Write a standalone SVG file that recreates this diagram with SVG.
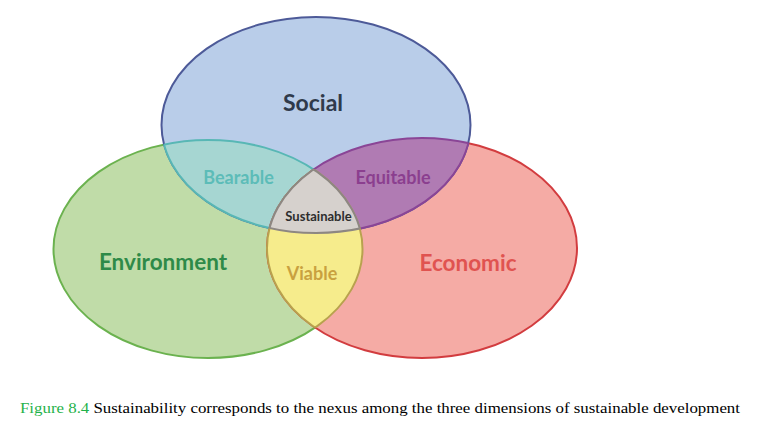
<svg xmlns="http://www.w3.org/2000/svg" xmlns:xlink="http://www.w3.org/1999/xlink" width="767" height="428" viewBox="0 0 767 428">
<style>
.lbl{font-family:Lato,"Open Sans","Liberation Sans",sans-serif;font-weight:bold;text-anchor:middle;dominant-baseline:central}
.cap{font-family:"Liberation Serif","DejaVu Serif",serif;font-size:15.5px}
</style>
<defs>
<ellipse id="soc" cx="316" cy="125" rx="154.5" ry="108"/>
<ellipse id="env" cx="208" cy="249" rx="154.5" ry="109"/>
<ellipse id="eco" cx="422" cy="248" rx="155" ry="110"/>
<clipPath id="cSoc"><use xlink:href="#soc"/></clipPath>
<clipPath id="cEnv"><use xlink:href="#env"/></clipPath>
<clipPath id="cEco"><use xlink:href="#eco"/></clipPath>
</defs>
<rect width="767" height="428" fill="#ffffff"/>
<g id="environment">
<use xlink:href="#env" fill="#c0dca8" stroke="#6bb24f" stroke-width="2"/>
</g>
<g id="economic">
<use xlink:href="#eco" fill="#f5aba5" stroke="#d23c3f" stroke-width="2"/>
</g>
<g id="social">
<use xlink:href="#soc" fill="#b9cde9" stroke="#4d5a98" stroke-width="2"/>
</g>
<g id="bearable">
<use xlink:href="#env" clip-path="url(#cSoc)" fill="#a6d6d2" stroke="#58b7b5" stroke-width="2"/>
<use xlink:href="#soc" clip-path="url(#cEnv)" fill="none" stroke="#58b7b5" stroke-width="2"/>
</g>
<g id="equitable">
<use xlink:href="#eco" clip-path="url(#cSoc)" fill="#b07bb3" stroke="#8a4596" stroke-width="2"/>
<use xlink:href="#soc" clip-path="url(#cEco)" fill="none" stroke="#8a4596" stroke-width="2"/>
</g>
<g id="viable">
<use xlink:href="#eco" clip-path="url(#cEnv)" fill="#f6ec8c" stroke="#b8a24e" stroke-width="2"/>
<use xlink:href="#env" clip-path="url(#cEco)" fill="none" stroke="#b8a24e" stroke-width="2"/>
</g>
<g id="sustainable">
<g clip-path="url(#cSoc)"><use xlink:href="#eco" clip-path="url(#cEnv)" fill="#d6d1cd" stroke="#8d8782" stroke-width="2"/></g>
<g clip-path="url(#cSoc)"><use xlink:href="#env" clip-path="url(#cEco)" fill="none" stroke="#8d8782" stroke-width="2"/></g>
<g clip-path="url(#cEnv)"><use xlink:href="#soc" clip-path="url(#cEco)" fill="none" stroke="#8d8782" stroke-width="2"/></g>
</g>
<g id="labels">
<text class="lbl" x="313" y="102" font-size="23" fill="#2f3a4b">Social</text>
<text class="lbl" x="238.5" y="177" font-size="18" fill="#5cbcb8">Bearable</text>
<text class="lbl" x="393" y="177" font-size="18" fill="#8b3f8f">Equitable</text>
<text class="lbl" x="318.5" y="216" font-size="13" fill="#2d2d2d">Sustainable</text>
<text class="lbl" x="163" y="261" font-size="22.5" fill="#2e8a48">Environment</text>
<text class="lbl" x="312" y="273" font-size="18" fill="#c9a13f">Viable</text>
<text class="lbl" x="468" y="262" font-size="22.5" fill="#e05350">Economic</text>
</g>
<text class="cap" x="20" y="413" textLength="720" lengthAdjust="spacingAndGlyphs"><tspan fill="#1fb24a">Figure 8.4</tspan> Sustainability corresponds to the nexus among the three dimensions of sustainable development</text>
</svg>
